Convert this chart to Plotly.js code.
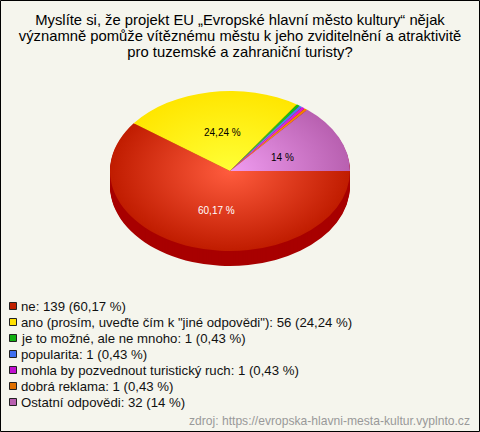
<!DOCTYPE html>
<html><head><meta charset="utf-8">
<script src="https://cdn.plot.ly/plotly-3.0.1.min.js"></script>
<style>html,body{margin:0;padding:0;background:#f5f5ed}#c{width:480px;height:432px}</style>
</head><body><div id="c"></div>
<script>
var categories=["ne","ano (prosím, uveďte čím k \"jiné odpovědi\")","je to možné, ale ne mnoho","popularita","mohla by pozvednout turistický ruch","dobrá reklama","Ostatní odpovědi"];
var counts=[139,56,1,1,1,1,32];
var percents=["60,17","24,24","0,43","0,43","0,43","0,43","14"];
var edgeColors=["#c01c00","#ffe600","#10c010","#4a78f0","#d818d8","#f08000","#b860b0"];
var centerColors=["#ff5c3e","#ffff36","#30e030","#6a98ff","#f040f0","#ff9a20","#f09cf0"];
var swatchColors=["#c02000","#ffe000","#10b010","#4070f0","#c010d0","#e07000","#b860b0"];
var titleLines=["Myslíte si, že projekt EU „Evropské hlavní město kultury“ nějak","významně pomůže vítěznému městu k jeho zviditelnění a atraktivitě","pro tuzemské a zahraniční turisty?"];
var sourceText="zdroj: https://evropska-hlavni-mesta-kultur.vyplnto.cz";
var W=480,H=432,cx=230,cy=171,r=120,squash=2/3,depth=15;
var font="Liberation Sans, Arial, sans-serif";
function pieTrace(off,colors){
  var c=cy+off/squash;
  return {type:"pie",values:counts,labels:categories,sort:false,direction:"clockwise",rotation:90,
    marker:{colors:colors,line:{width:0}},textinfo:"none",hoverinfo:"none",showlegend:false,
    domain:{x:[(cx-r)/W,(cx+r)/W],y:[1-(c+r)/H,1-(c-r)/H]}};
}
var data=[];
for(var k=depth;k>=1;k--){data.push(pieTrace(k,counts.map(function(){return "#a80000"})));}
data.push(pieTrace(0,edgeColors));
var ann=[],shapes=[];
var labelPos=[[216.5,210,"#ffffff"],[222.5,132,"#000000"],null,null,null,null,[282.5,157,"#000000"]];
labelPos.forEach(function(p,i){ if(!p)return;
  ann.push({xref:"paper",yref:"paper",x:p[0]/W,y:1-p[1]/H,text:percents[i]+" %",showarrow:false,xanchor:"center",yanchor:"middle",font:{family:font,size:10,color:p[2]}});
});
categories.forEach(function(n,i){
  var y=306+16*i;
  ann.push({xref:"paper",yref:"paper",x:20/W,y:1-y/H,text:n+": "+counts[i]+" ("+percents[i]+" %)",showarrow:false,xanchor:"left",yanchor:"middle",xshift:-1,font:{family:font,size:13.2,color:"#111"}});
  shapes.push({type:"rect",xref:"paper",yref:"paper",x0:9.5/W,x1:16.5/W,y0:1-(y-3.5)/H,y1:1-(y+3.5)/H,fillcolor:swatchColors[i],line:{color:"#222",width:1}});
});
ann.push({xref:"paper",yref:"paper",x:470.5/W,y:1-421/H,text:sourceText,showarrow:false,xanchor:"right",yanchor:"middle",xshift:1,font:{family:font,size:12.1,color:"#999"}});
shapes.push({type:"rect",xref:"paper",yref:"paper",x0:0.5/W,x1:479.5/W,y0:0.5/H,y1:431.5/H,line:{color:"#000",width:1}});
var layout={width:W,height:H,margin:{l:0,r:0,t:0,b:0},paper_bgcolor:"#f5f5ed",showlegend:false,
  title:{text:titleLines.join("<br>"),x:240/W,xanchor:"center",y:1-14/H,yanchor:"top",font:{family:font,size:14.8,color:"#000"}},
  annotations:ann,shapes:shapes};
Plotly.newPlot("c",data,layout,{staticPlot:true,displayModeBar:false}).then(function(gd){
  var svg=gd.querySelector("svg.main-svg"),NS="http://www.w3.org/2000/svg";
  var defs=svg.querySelector("defs")||svg.insertBefore(document.createElementNS(NS,"defs"),svg.firstChild);
  edgeColors.forEach(function(e,i){
    var g=document.createElementNS(NS,"radialGradient");
    g.setAttribute("id","sl"+i);g.setAttribute("gradientUnits","userSpaceOnUse");
    g.setAttribute("cx",cx);g.setAttribute("cy",cy);g.setAttribute("r",r);
    [[0,centerColors[i]],[1,e]].forEach(function(s){var t=document.createElementNS(NS,"stop");
      t.setAttribute("offset",s[0]);t.setAttribute("stop-color",s[1]);g.appendChild(t);});
    defs.appendChild(g);
  });
  var layer=gd.querySelector(".pielayer");
  layer.setAttribute("transform","translate(0,"+cy+") scale(1,"+squash+") translate(0,"+(-cy)+")");
  var tr=layer.querySelectorAll(".trace");
  tr[tr.length-1].querySelectorAll("path.surface").forEach(function(p,i){p.style.fill="url(#sl"+i+")";});
  var tt=gd.querySelector(".gtitle");
  tt.removeAttribute("dy");
  tt.setAttribute("y",25);
  tt.querySelectorAll("tspan.line").forEach(function(t,i){t.removeAttribute("dy");t.setAttribute("y",25+16*i);});
});
</script></body></html>
